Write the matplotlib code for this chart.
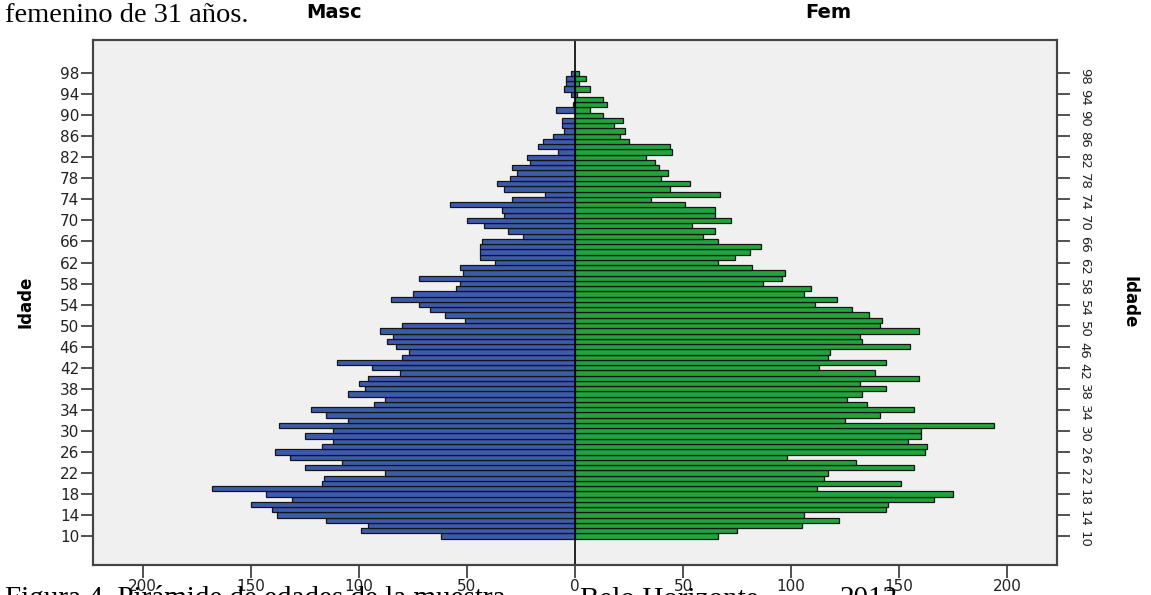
import matplotlib
matplotlib.use("Agg")
import matplotlib.pyplot as plt

# ages 10..98, counts
ages = list(range(10, 99))
masc = [62, 99, 96, 115, 138, 140, 150, 131, 143, 168,
        117, 116, 88, 125, 108, 132, 139, 117, 112, 125,
        112, 137, 105, 115, 122, 93, 88, 105, 97, 100,
        96, 81, 94, 110, 80, 77, 83, 87, 84, 90,
        80, 51, 60, 67, 72, 85, 75, 55, 53, 72,
        52, 53, 37, 44, 44, 44, 43, 24, 31, 42,
        50, 33, 34, 58, 29, 14, 33, 36, 30, 27,
        29, 21, 22, 8, 17, 15, 10, 5, 6, 6,
        0, 9, 1, 0, 2, 5, 4, 4, 2]
fem = [66, 75, 105, 122, 106, 144, 145, 166, 175, 112,
       151, 115, 117, 157, 130, 98, 162, 163, 154, 160,
       160, 194, 125, 141, 157, 135, 126, 133, 144, 132,
       159, 139, 113, 144, 117, 118, 155, 133, 132, 159,
       141, 142, 136, 128, 111, 121, 106, 109, 87, 96,
       97, 82, 66, 74, 81, 86, 66, 59, 65, 54,
       72, 65, 65, 51, 35, 67, 44, 53, 40, 43,
       39, 37, 33, 45, 44, 25, 21, 23, 18, 22,
       13, 7, 15, 13, 1, 7, 2, 5, 2]

age_ticks = list(range(10, 99, 4))
x_ticks = [-200, -150, -100, -50, 0, 50, 100, 150, 200]
x_tick_labels = ["200", "150", "100", "50", "0", "50", "100", "150", "200"]

W, H = 1151, 595
fig = plt.figure(figsize=(W / 100, H / 100), dpi=100)
ax = fig.add_axes([93 / W, 30 / H, (1057 - 93) / W, (565 - 40) / H])
ax.set_facecolor("#f0f0f0")

ax.barh(ages, [-m for m in masc], height=1.0, color="#3d5bab",
        edgecolor="#151515", linewidth=0.9, zorder=2)
ax.barh(ages, fem, height=1.0, color="#22a33c",
        edgecolor="#151515", linewidth=0.9, zorder=2)
ax.axvline(0, color="black", lw=1.2, zorder=3)

ax.set_xlim(-223, 223)
ax.set_ylim(4.5, 104.3)
ax.set_xticks(x_ticks)
ax.set_xticklabels(x_tick_labels)
ax.set_yticks(age_ticks)
ax.tick_params(axis="both", direction="out", length=9, width=1.2,
               color="#333333", labelcolor="#222222", labelsize=11, pad=1)

for s in ax.spines.values():
    s.set_color("#444444")
    s.set_linewidth(1.5)

ax2 = ax.twinx()
ax2.set_ylim(ax.get_ylim())
ax2.set_yticks(age_ticks)
ax2.tick_params(axis="y", direction="out", length=9, width=1.2,
                color="#333333", labelcolor="#222222", labelsize=9.5, pad=6)
for lbl in ax2.get_yticklabels():
    lbl.set_rotation(270)
for s in ax2.spines.values():
    s.set_color("#444444")
    s.set_linewidth(1.5)

# axis titles
fig.text(25 / W, 1 - 302 / H, "Idade", rotation=90, ha="center", va="center",
         weight="bold", fontsize=12)
fig.text(1130 / W, 1 - 302 / H, "Idade", rotation=270, ha="center", va="center",
         weight="bold", fontsize=12)
fig.text(334 / W, 1 - 13 / H, "Masc", ha="center", va="center",
         weight="bold", fontsize=14)
fig.text(828 / W, 1 - 13 / H, "Fem", ha="center", va="center",
         weight="bold", fontsize=14)

# surrounding document text
fig.text(5 / W, 1 - 22 / H, "femenino de 31 años.", family="Liberation Serif",
         fontsize=20.5, va="baseline")
fig.text(5 / W, 1 - 606 / H, "Figura 4. Pirámide de edades de la muestra.",
         family="Liberation Serif", fontsize=21, va="baseline")
fig.text(580 / W, 1 - 606 / H, "Belo Horizonte,",
         family="Liberation Serif", fontsize=21, va="baseline")
fig.text(840 / W, 1 - 606 / H, "2012",
         family="Liberation Serif", fontsize=21, va="baseline")

fig.savefig("out.png", dpi=100)
